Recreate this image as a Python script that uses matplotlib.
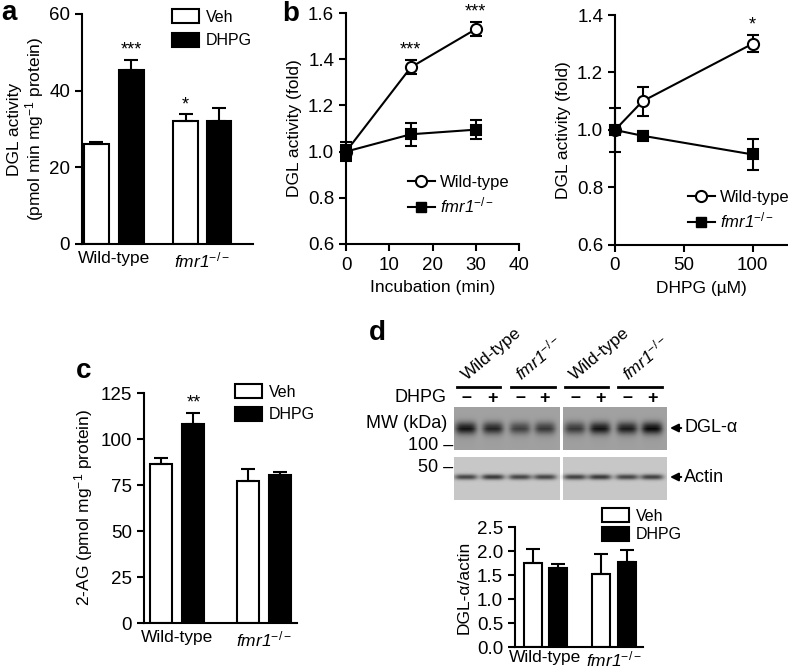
import numpy as np
import matplotlib
matplotlib.use('Agg')
import matplotlib.pyplot as plt
from matplotlib.patches import Patch
from matplotlib.lines import Line2D

plt.rcParams['font.family'] = ['Liberation Sans', 'DejaVu Sans']
plt.rcParams['mathtext.fontset'] = 'custom'
plt.rcParams['mathtext.rm'] = 'Liberation Sans'
plt.rcParams['mathtext.it'] = 'Liberation Sans:italic'
plt.rcParams['mathtext.sf'] = 'Liberation Sans:italic'
plt.rcParams['mathtext.bf'] = 'Liberation Sans:bold'
plt.rcParams['font.size'] = 12.5
plt.rcParams['xtick.labelsize'] = 13.5
plt.rcParams['ytick.labelsize'] = 13.5
plt.rcParams['axes.linewidth'] = 1.5
plt.rcParams['xtick.major.width'] = 1.5
plt.rcParams['ytick.major.width'] = 1.5
plt.rcParams['xtick.major.size'] = 5
plt.rcParams['ytick.major.size'] = 5

KO = r'$\mathsf{fmr1}^{-/-}$'
groups = ['Wild-type', KO]

# panel a: DGL activity (pmol/min/mg)
a_veh = [26.0, 32.0]
a_veh_err = [0.5, 1.8]
a_dhpg = [45.5, 32.2]
a_dhpg_err = [2.5, 3.2]
a_veh_stars = ['', '*']
a_dhpg_stars = ['***', '']

# panel b left: time course
b_time = [0, 15, 30]
b_wt = [1.0, 1.365, 1.53]
b_wt_err = [0.03, 0.03, 0.03]
b_ko = [1.0, 1.075, 1.095]
b_ko_err = [0.04, 0.05, 0.04]
b_stars = ['', '***', '***']

# panel b right: dose response
b2_dose = [0, 20, 100]
b2_wt = [1.0, 1.10, 1.30]
b2_wt_err = [0.075, 0.05, 0.03]
b2_ko = [1.0, 0.98, 0.915]
b2_ko_err = [0.01, 0.015, 0.055]
b2_stars = ['', '', '*']

# panel c: 2-AG
c_veh = [86.5, 77.0]
c_veh_err = [3.0, 6.5]
c_dhpg = [108.0, 80.5]
c_dhpg_err = [6.0, 1.5]
c_veh_stars = ['', '']
c_dhpg_stars = ['**', '']

# panel d: DGL-a / actin
d_veh = [1.75, 1.53]
d_veh_err = [0.3, 0.4]
d_dhpg = [1.64, 1.77]
d_dhpg_err = [0.08, 0.25]

# blot band strengths, lanes left to right
blot_groups = ['Wild-type', KO, 'Wild-type', KO]
blot_signs = ['–', '+', '–', '+', '–', '+', '–', '+']
dgl_band = [0.50, 0.44, 0.34, 0.37, 0.37, 0.50, 0.47, 0.54]
actin_band = [0.50, 0.55, 0.50, 0.50, 0.52, 0.55, 0.50, 0.52]

W, H = 788, 672
fig = plt.figure(figsize=(W / 100, H / 100), dpi=100)


def box(L, T, R, B):
    return fig.add_axes([L / W, 1 - B / H, (R - L) / W, (B - T) / H])


def fpos(x, y):
    return x / W, 1 - y / H


def style(ax):
    ax.spines['top'].set_visible(False)
    ax.spines['right'].set_visible(False)


def bar_panel(ax, pos_veh, pos_dhpg, width, veh, veh_err, dhpg, dhpg_err, veh_st=None, dhpg_st=None):
    ekw = dict(lw=1.5, capthick=1.5)
    ax.bar(pos_veh, veh, width, color='white', edgecolor='black', lw=1.5,
           yerr=[np.zeros(len(veh)), veh_err], capsize=5, error_kw=ekw)
    ax.bar(pos_dhpg, dhpg, width, color='black', edgecolor='black', lw=1.5,
           yerr=[np.zeros(len(dhpg)), dhpg_err], capsize=5, error_kw=ekw)
    for pos, v, e, st in [(pos_veh, veh, veh_err, veh_st), (pos_dhpg, dhpg, dhpg_err, dhpg_st)]:
        if st is None:
            continue
        for x, y, ee, s in zip(pos, v, e, st):
            if s:
                ax.annotate(s, (x, y + ee), xytext=(0, 1), textcoords='offset points',
                            ha='center', va='bottom', fontsize=13)
    ax.set_xticks([(a + b) / 2 for a, b in zip(pos_veh, pos_dhpg)])
    ax.set_xticklabels(groups, fontsize=12.5)
    ax.tick_params(axis='x', length=0, pad=5)
    style(ax)


def bar_legend(ax, x, y, spacing):
    h = [Patch(facecolor='white', edgecolor='black', lw=1.5),
         Patch(facecolor='black', edgecolor='black', lw=1.5)]
    ax.legend(h, ['Veh', 'DHPG'], loc='upper left', bbox_to_anchor=fpos(x, y),
              bbox_transform=fig.transFigure, frameon=False, fontsize=11.5,
              borderpad=0, borderaxespad=0, handlelength=1.7, handleheight=1.0,
              handletextpad=0.4, labelspacing=spacing)


def line_panel(ax, x, wt, wt_err, ko, ko_err, stars):
    ax.errorbar(x, wt, yerr=wt_err, fmt='-o', color='black', mfc='white', mec='black',
                ms=8, mew=1.5, lw=1.5, capsize=4, capthick=1.5, clip_on=False, zorder=3)
    ax.errorbar(x, ko, yerr=ko_err, fmt='-s', color='black', mfc='black', mec='black',
                ms=7.5, mew=1.5, lw=1.5, capsize=4, capthick=1.5, clip_on=False, zorder=4)
    for xx, y, e, s in zip(x, wt, wt_err, stars):
        if s:
            ax.annotate(s, (xx, y + e), xytext=(0, 1), textcoords='offset points',
                        ha='center', va='bottom', fontsize=13)
    ax.tick_params(axis='x', pad=4)
    style(ax)


def line_legend(ax, x, y):
    h = [Line2D([], [], color='black', lw=1.5, marker='o', mfc='white', ms=8, mew=1.5),
         Line2D([], [], color='black', lw=1.5, marker='s', mfc='black', ms=7.5)]
    ax.legend(h, ['Wild-type', KO], loc='upper left', bbox_to_anchor=fpos(x, y),
              bbox_transform=fig.transFigure, frameon=False, fontsize=12,
              borderpad=0, borderaxespad=0, handlelength=1.6, handletextpad=0.3,
              labelspacing=0.35)


# ---- a ----
ax_a = box(82, 14, 253, 244)
bar_panel(ax_a, [0, 2.55], [1, 3.5], 0.7, a_veh, a_veh_err, a_dhpg, a_dhpg_err,
          a_veh_stars, a_dhpg_stars)
ax_a.set_xlim(-0.41, 4.47)
ax_a.set_ylim(0, 60)
ax_a.set_yticks([0, 20, 40, 60])
ax_a.set_ylabel('DGL activity\n(pmol min mg$^{-1}$ protein)', linespacing=1.1, labelpad=2)
bar_legend(ax_a, 172, 9, 0.5)

# ---- b left ----
ax_b = box(346, 13, 519, 244)
line_panel(ax_b, b_time, b_wt, b_wt_err, b_ko, b_ko_err, b_stars)
ax_b.set_xlim(0, 40)
ax_b.set_ylim(0.6, 1.6)
ax_b.set_xticks([0, 10, 20, 30, 40])
ax_b.set_yticks([0.6, 0.8, 1.0, 1.2, 1.4, 1.6])
ax_b.set_xlabel('Incubation (min)', labelpad=5)
ax_b.set_ylabel('DGL activity (fold)')
line_legend(ax_b, 408, 175)

# ---- b right ----
ax_b2 = box(615, 15, 787, 245)
line_panel(ax_b2, b2_dose, b2_wt, b2_wt_err, b2_ko, b2_ko_err, b2_stars)
ax_b2.set_xlim(0, 125)
ax_b2.set_ylim(0.6, 1.4)
ax_b2.set_xticks([0, 50, 100])
ax_b2.set_yticks([0.6, 0.8, 1.0, 1.2, 1.4])
ax_b2.set_xlabel('DHPG (µM)', labelpad=5)
ax_b2.set_ylabel('DGL activity (fold)')
line_legend(ax_b2, 688, 190)

# ---- c ----
ax_c = box(144, 393, 297, 623)
bar_panel(ax_c, [0, 2.68], [1, 3.68], 0.68, c_veh, c_veh_err, c_dhpg, c_dhpg_err,
          c_veh_stars, c_dhpg_stars)
ax_c.set_xlim(-0.52, 4.19)
ax_c.set_ylim(0, 125)
ax_c.set_yticks([0, 25, 50, 75, 100, 125])
ax_c.set_ylabel('2-AG (pmol mg$^{-1}$ protein)')
bar_legend(ax_c, 235, 384, 0.45)

# ---- d blot ----
ax_bl = box(454, 407, 667, 500)
nx, ny = 213, 93
yy, xx = np.mgrid[0:ny, 0:nx] + 0.5
img = np.ones((ny, nx))
top = yy < 43
bot = yy > 50
img[top] = 0.63
img[bot] = 0.78
img[(xx > 106) & (xx < 109.5)] = 1.0
lane_x = [12, 39, 66, 91, 121, 146, 173, 198]
for i, cx in enumerate(lane_x):
    prof = np.exp(-((xx - cx) / 10.5) ** 4)
    band = dgl_band[i] * prof * np.exp(-((yy - 21) / 6.0) ** 2)
    smear = 0.12 * dgl_band[i] * prof * np.exp(-np.clip(yy - 21, 0, None) / 10.0) * (yy > 21)
    img -= (band + smear) * top
    prof2 = np.exp(-((xx - cx) / 11.5) ** 4)
    img -= actin_band[i] * prof2 * np.exp(-((yy - 70) / 2.8) ** 2) * bot
img = np.clip(img, 0, 1)
ax_bl.imshow(img, cmap='gray', vmin=0, vmax=1, extent=(0, nx, ny, 0),
             interpolation='bilinear', aspect='auto')
ax_bl.set_xlim(0, nx)
ax_bl.set_ylim(ny, 0)
ax_bl.axis('off')

group_span = [(3, 46), (57, 101), (111, 154), (164, 208)]
for (g0, g1), name in zip(group_span, blot_groups):
    ax_bl.plot([g0, g1], [-20, -20], color='black', lw=2, clip_on=False)
    ax_bl.text(g0 + 10, -26, name, rotation=40, rotation_mode='anchor', ha='left',
               va='baseline', fontsize=12.5, clip_on=False)
for cx, s in zip(lane_x, blot_signs):
    ax_bl.text(cx, -9, s, ha='center', va='center', fontsize=13, fontweight='bold')
ax_bl.text(-7, -9, 'DHPG', ha='right', va='center', fontsize=13)
ax_bl.text(-7, 16, 'MW (kDa)', ha='right', va='center', fontsize=13)
ax_bl.text(-1, 38, '100 –', ha='right', va='center', fontsize=13)
ax_bl.text(-1, 61, '50 –', ha='right', va='center', fontsize=13)
for y, lab in [(21, 'DGL-α'), (70, 'Actin')]:
    ax_bl.annotate(lab, xy=(216, y), xytext=(230, y), va='center', ha='left',
                   fontsize=13, annotation_clip=False,
                   arrowprops=dict(arrowstyle='-|>', color='black', lw=1.5,
                                   shrinkA=0, shrinkB=0, mutation_scale=12))

# ---- d bars ----
ax_d = box(515, 527, 643, 647)
bar_panel(ax_d, [0, 2.72], [1, 3.74], 0.72, d_veh, d_veh_err, d_dhpg, d_dhpg_err)
ax_d.set_xlim(-0.72, 4.4)
ax_d.set_ylim(0, 2.5)
ax_d.set_yticks([0, 0.5, 1.0, 1.5, 2.0, 2.5])
ax_d.set_yticklabels(['0.0', '0.5', '1.0', '1.5', '2.0', '2.5'])
ax_d.tick_params(axis='x', pad=2)
ax_d.set_ylabel('DGL-α/actin')
bar_legend(ax_d, 602, 508, 0.2)

# panel letters
for x, y, s in [(1, 13, 'a'), (282, 14, 'b'), (76, 371, 'c'), (369, 333, 'd')]:
    fig.text(*fpos(x, y), s, fontsize=20, fontweight='bold', ha='left', va='center')

fig.savefig('out.png', dpi=100)
